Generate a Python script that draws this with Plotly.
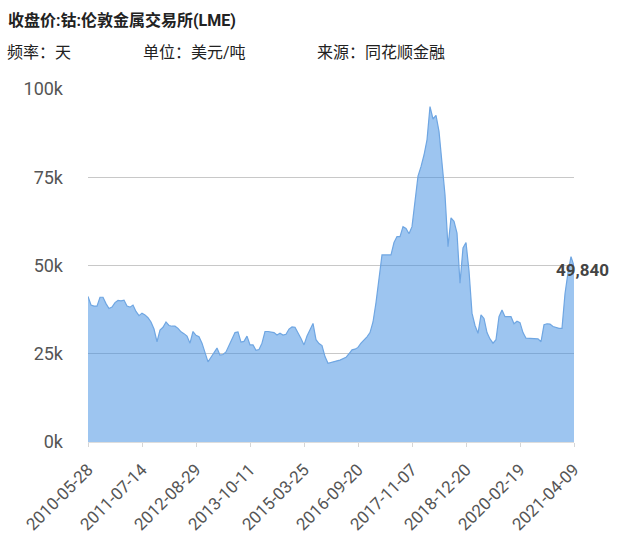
import plotly.graph_objects as go

# Closing price of cobalt, LME (USD/ton), in thousands, sampled evenly along the category axis
values_k = [
    41.2, 38.8, 38.5, 38.5, 41.0, 41.0, 39.2, 37.8, 38.2, 39.5,
    40.1, 40.0, 40.2, 38.5, 38.2, 38.8, 37.0, 35.8, 36.5, 36.0,
    35.2, 34.0, 32.0, 28.4, 31.7, 32.5, 34.0, 33.0, 32.8, 32.8,
    32.2, 31.2, 30.7, 30.0, 28.0, 31.3, 30.2, 29.8, 28.0, 25.0,
    22.7, 24.0, 25.5, 26.6, 24.6, 24.8, 25.5, 27.3, 29.2, 31.0,
    31.2, 28.3, 28.5, 30.0, 27.5, 27.5, 26.0, 26.2, 28.0, 31.3,
    31.3, 31.2, 31.0, 30.3, 30.8, 30.3, 30.5, 32.0, 32.6, 32.5,
    31.0, 29.3, 27.5, 30.0, 31.8, 33.6, 29.0, 27.9, 27.3, 24.2,
    22.3, 22.6, 22.8, 23.0, 23.2, 23.6, 24.0, 25.0, 26.1, 26.3,
    26.8, 28.0, 28.8, 29.8, 31.0, 34.0, 39.5, 47.0, 53.0, 53.0,
    53.0, 53.0, 56.5, 58.2, 58.2, 61.0, 60.5, 59.0, 61.0, 68.6,
    75.3, 78.0, 81.3, 85.6, 95.0, 91.5, 92.5, 88.0, 79.5, 70.0,
    55.3, 63.5, 62.5, 59.2, 45.0, 55.0, 56.5, 48.5, 36.5, 33.0,
    30.8, 36.0, 35.0, 31.0, 29.2, 28.0, 29.0, 35.5, 37.4, 35.5,
    35.5, 35.5, 33.5, 34.2, 33.8, 31.0, 29.4, 29.4, 29.4, 29.4,
    29.2, 28.4, 33.2, 33.5, 33.4, 32.7, 32.4, 32.2, 32.2, 42.0,
    48.0, 52.5, 49.84,
]
values = [v * 1000 for v in values_k]

tick_labels = ["2010-05-28", "2011-07-14", "2012-08-29", "2013-10-11", "2015-03-25",
               "2016-09-20", "2017-11-07", "2018-12-20", "2020-02-19", "2021-04-09"]
y_ticks = [0, 25000, 50000, 75000, 100000]
y_tick_text = ["0k", "25k", "50k", "75k", "100k"]

title_text = "收盘价:钴:伦敦金属交易所(LME)"
sub_freq = "频率：天"
sub_unit = "单位：美元/吨"
sub_src = "来源：同花顺金融"

n = len(values)
idx = list(range(n))
tick_pos = [i * (n - 1) / (len(tick_labels) - 1) for i in range(len(tick_labels))]

FONT = "Roboto, 'Noto Sans CJK SC', sans-serif"

fig = go.Figure()
fig.add_trace(go.Scatter(
    x=idx, y=values, mode="lines",
    line=dict(color="#6fa6e2", width=1.2),
    fill="tozeroy", fillcolor="rgba(60,140,225,0.5)",
    hoverinfo="skip", showlegend=False,
))

last_val = values[-1]
fig.add_annotation(
    x=idx[-1], y=last_val, xref="x", yref="y",
    text=f"<b>{last_val:,.0f}</b>", showarrow=False,
    xanchor="left", yanchor="middle", xshift=-20, yshift=-4,
    font=dict(family=FONT, size=17, color="#444444"),
)

L, R, T, B = 88, 66, 89, 104
PW = 640 - L - R
PH = 546 - T - B

def px_x(p):
    return (p - L) / PW

def px_y(p):
    return (546 - B - p) / PH

fig.add_annotation(x=px_x(6), y=px_y(20), xref="paper", yref="paper",
                   text=f"<b>{title_text}</b>", showarrow=False,
                   xanchor="left", yanchor="middle",
                   font=dict(family=FONT, size=16, color="#222222"))
for txt, xp in [(sub_freq, 5), (sub_unit, 141), (sub_src, 315)]:
    fig.add_annotation(x=px_x(xp), y=px_y(53), xref="paper", yref="paper",
                       text=txt, showarrow=False,
                       xanchor="left", yanchor="middle",
                       font=dict(family=FONT, size=16, color="#222222"))

fig.update_layout(
    width=640, height=546,
    margin=dict(l=L, r=R, t=T, b=B),
    paper_bgcolor="white", plot_bgcolor="white",
    font=dict(family=FONT, color="#555555"),
    xaxis=dict(
        range=[0, n - 1], tickmode="array", tickvals=tick_pos, ticktext=tick_labels,
        tickangle=-45, tickfont=dict(size=17, color="#555555"),
        showgrid=False, zeroline=False,
        showline=True, linecolor="#dddddd", linewidth=1,
        ticks="outside", ticklen=4, tickcolor="#d6d6d6",
        ticklabelstandoff=6,
    ),
    yaxis=dict(
        range=[0, 100000], tickmode="array", tickvals=y_ticks, ticktext=y_tick_text,
        tickfont=dict(size=18, color="#555555"),
        showgrid=True, gridcolor="#c8c8c8", gridwidth=1,
        zeroline=False, showline=False, ticks="", ticklabelstandoff=24,
    ),
)

fig.write_html("out.html", config={"displayModeBar": False},
               post_script="document.body.style.margin='0';")
